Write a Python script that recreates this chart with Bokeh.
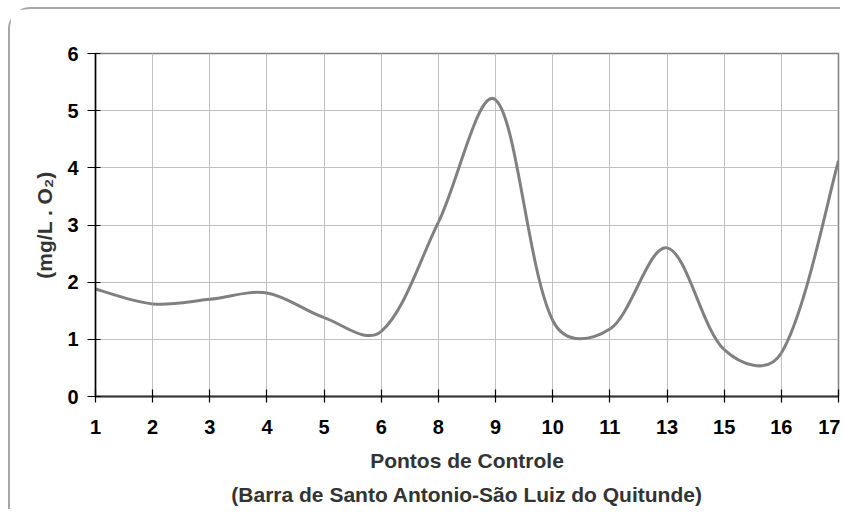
from bokeh.plotting import figure
from bokeh.models import Range1d, FixedTicker, Title
from bokeh.embed import file_html
from bokeh.resources import INLINE

# ---- data ----
categories = ["1", "2", "3", "4", "5", "6", "8", "9", "10", "11", "13", "15", "16", "17"]
oxygen = [1.88, 1.62, 1.70, 1.81, 1.38, 1.14, 3.05, 5.19, 1.33, 1.18, 2.60, 0.82, 0.76, 4.12]
y_ticks = [0, 1, 2, 3, 4, 5, 6]

FONT = "Liberation Sans"
PX_X = 57.15   # pixels per category step (used only for the smoothing shape)
PX_Y = 57.2    # pixels per mg/L (used only for the smoothing shape)

p = figure(width=832, height=502, output_backend="svg", toolbar_location=None,
           x_range=Range1d(0, len(categories) - 1), y_range=Range1d(0, 6),
           min_border_left=85, min_border_right=4, min_border_top=44, min_border_bottom=115,
           background_fill_color="white", border_fill_color="white")
p.styles = {"margin-left": "8px", "margin-top": "7px",
            "border-top": "2px solid #a6a6a6", "border-left": "2px solid #a6a6a6",
            "border-top-left-radius": "22px"}

p.outline_line_color = "#808080"
p.outline_line_width = 1.5

# ---- smoothed line (Excel-like Bezier smoothing) ----
xs = list(range(len(categories)))
n = len(xs)
P = [(xs[i] * PX_X, oxygen[i] * PX_Y) for i in range(n)]

def dist(a, b):
    return ((a[0] - b[0]) ** 2 + (a[1] - b[1]) ** 2) ** 0.5

ctrl_after = []
ctrl_before = []
for i in range(n):
    prev = P[i - 1] if i > 0 else P[i]
    nxt = P[i + 1] if i < n - 1 else P[i]
    tx, ty = nxt[0] - prev[0], nxt[1] - prev[1]
    d1 = dist(prev, P[i])
    d2 = dist(P[i], nxt)
    tot = d1 + d2 if d1 + d2 > 0 else 1
    fb = (0.5 * d1 / tot + 0.25) / 3.0
    fa = (0.5 * d2 / tot + 0.25) / 3.0
    if i == 0:
        fa = 1 / 6.0
    if i == n - 1:
        fb = 1 / 6.0
    ctrl_before.append((P[i][0] - tx * fb, P[i][1] - ty * fb))
    ctrl_after.append((P[i][0] + tx * fa, P[i][1] + ty * fa))

x0 = [xs[i] for i in range(n - 1)]
y0 = [oxygen[i] for i in range(n - 1)]
x1 = [xs[i + 1] for i in range(n - 1)]
y1 = [oxygen[i + 1] for i in range(n - 1)]
cx0 = [ctrl_after[i][0] / PX_X for i in range(n - 1)]
cy0 = [ctrl_after[i][1] / PX_Y for i in range(n - 1)]
cx1 = [ctrl_before[i + 1][0] / PX_X for i in range(n - 1)]
cy1 = [ctrl_before[i + 1][1] / PX_Y for i in range(n - 1)]

p.bezier(x0=x0, y0=y0, x1=x1, y1=y1, cx0=cx0, cy0=cy0, cx1=cx1, cy1=cy1,
         line_color="#808080", line_width=3)

# ---- axes ----
p.xaxis.ticker = FixedTicker(ticks=xs)
p.xaxis.major_label_overrides = {i: c for i, c in enumerate(categories)}
p.yaxis.ticker = FixedTicker(ticks=y_ticks)
p.xgrid.ticker = FixedTicker(ticks=xs)
p.ygrid.ticker = FixedTicker(ticks=y_ticks)

for g in (p.xgrid, p.ygrid):
    g.grid_line_color = "#c0c0c0"
    g.grid_line_width = 1

for ax in (p.xaxis, p.yaxis):
    ax.major_label_text_font = FONT
    ax.major_label_text_font_size = "20px"
    ax.major_label_text_font_style = "bold"
    ax.major_label_text_color = "black"
    ax.minor_tick_line_color = None
    ax.major_tick_line_color = "black"
    ax.major_tick_line_width = 1.2

p.xaxis.axis_line_color = "#333333"
p.xaxis.axis_line_width = 2
p.xaxis.major_tick_in = 7
p.xaxis.major_tick_out = 6
p.xaxis.major_label_standoff = 17

p.yaxis.axis_line_color = "black"
p.yaxis.axis_line_width = 1.5
p.yaxis.major_tick_in = 5
p.yaxis.major_tick_out = 8
p.yaxis.major_label_standoff = 9
p.yaxis.axis_label = "(mg/L . O\u2082)"
p.yaxis.axis_label_text_font = FONT
p.yaxis.axis_label_text_font_size = "21px"
p.yaxis.axis_label_text_font_style = "bold"
p.yaxis.axis_label_text_color = "#333333"
p.yaxis.axis_label_standoff = 8

t1 = Title(text="Pontos de Controle", align="center", offset=-17, standoff=21,
           text_font=FONT, text_font_size="21px", text_font_style="bold", text_color="#333333")
t2 = Title(text="(Barra de Santo Antonio-S\u00e3o Luiz do Quitunde)", align="center", offset=-17,
           standoff=-4,
           text_font=FONT, text_font_size="21px", text_font_style="bold", text_color="#333333")
p.add_layout(t1, "below")
p.add_layout(t2, "below")

open("out.html", "w").write(file_html(p, INLINE))
